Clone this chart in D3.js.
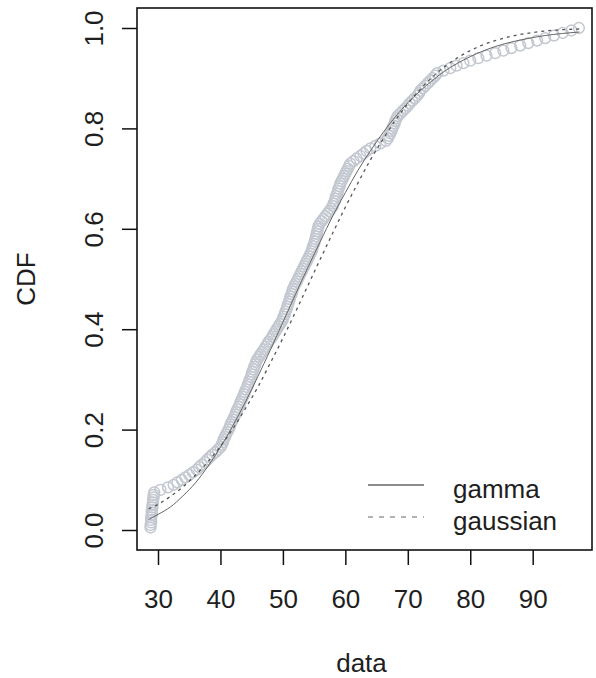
<!DOCTYPE html>
<html>
<head>
<meta charset="utf-8">
<script src="https://cdn.jsdelivr.net/npm/d3@7"></script>
<style>
  body { margin: 0; background: #fff; }
  svg text { font-family: "Liberation Sans", Arial, sans-serif; fill: #1e1e1e; }
</style>
</head>
<body>
<script>
// sorted sample (200 obs)
var sampleX = [
  28.8, 28.8, 28.9, 28.9, 28.9, 29.0, 29.0, 29.0, 29.1, 29.1,
  29.2, 29.2, 29.3, 29.3, 29.4, 30.4, 31.6, 32.5, 33.1, 33.8,
  34.4, 35.0, 35.6, 36.2, 36.6, 37.0, 37.5, 37.9, 38.3, 38.7,
  39.2, 39.6, 40.0, 40.2, 40.4, 40.5, 40.7, 40.9, 41.1, 41.3,
  41.5, 41.6, 41.8, 42.0, 42.2, 42.4, 42.5, 42.7, 42.9, 43.1,
  43.2, 43.4, 43.6, 43.8, 43.9, 44.1, 44.3, 44.4, 44.6, 44.7,
  44.9, 45.0, 45.1, 45.3, 45.4, 45.6, 45.7, 45.9, 46.2, 46.4,
  46.7, 47.0, 47.2, 47.5, 47.7, 48.0, 48.3, 48.5, 48.8, 49.0,
  49.3, 49.5, 49.8, 50.0, 50.1, 50.3, 50.4, 50.6, 50.7, 50.8,
  51.0, 51.1, 51.2, 51.4, 51.5, 51.6, 51.8, 52.0, 52.2, 52.4,
  52.6, 52.8, 53.0, 53.2, 53.4, 53.6, 53.8, 54.0, 54.2, 54.4,
  54.6, 54.7, 54.8, 55.0, 55.1, 55.2, 55.3, 55.4, 55.5, 55.6,
  55.7, 55.9, 56.2, 56.5, 56.8, 57.1, 57.4, 57.7, 58.0, 58.1,
  58.3, 58.4, 58.5, 58.7, 58.8, 58.9, 59.1, 59.2, 59.4, 59.6,
  59.8, 60.0, 60.2, 60.4, 60.6, 60.8, 61.3, 61.8, 62.4, 62.9,
  63.4, 64.0, 64.8, 65.6, 66.5, 66.8, 67.0, 67.2, 67.4, 67.5,
  67.7, 67.9, 68.0, 68.2, 68.4, 68.8, 69.2, 69.6, 70.0, 70.3,
  70.7, 71.1, 71.5, 71.8, 72.0, 72.4, 72.8, 73.2, 73.6, 74.0,
  74.4, 74.7, 75.7, 76.8, 77.8, 78.9, 80.0, 81.3, 82.6, 84.0,
  85.3, 86.6, 88.0, 89.3, 90.7, 92.0, 93.4, 94.8, 96.2, 97.4
];

// fitted curves
var gammaX = [28.5, 30, 32, 34, 36, 38, 40, 42, 44, 46, 48, 50, 52, 54, 56, 58, 60,
  62, 64, 66, 68, 70, 72, 74, 76, 78, 80, 84, 88, 92, 97.5];
var gammaP = [0.021, 0.031, 0.046, 0.068, 0.094, 0.127, 0.165, 0.208, 0.255, 0.306,
  0.359, 0.414, 0.469, 0.523, 0.575, 0.626, 0.672, 0.716, 0.755, 0.791, 0.823,
  0.851, 0.875, 0.896, 0.915, 0.930, 0.943, 0.963, 0.976, 0.985, 0.992];

var gaussX = [28.5, 30, 32, 34, 36, 38, 40, 42, 44, 46, 48, 50, 52, 54, 56, 58, 60,
  62, 64, 66, 68, 70, 72, 74, 76, 78, 80, 84, 88, 92, 97.5];
var gaussP = [0.042, 0.051, 0.067, 0.086, 0.109, 0.136, 0.167, 0.202, 0.242, 0.285,
  0.333, 0.382, 0.434, 0.487, 0.540, 0.592, 0.643, 0.691, 0.737, 0.778, 0.816,
  0.849, 0.878, 0.903, 0.924, 0.941, 0.955, 0.975, 0.987, 0.994, 0.998];

var xTicks = [30, 40, 50, 60, 70, 80, 90];
var yTicks = [0, 0.2, 0.4, 0.6, 0.8, 1.0];
var legendNames = ['gamma', 'gaussian'];

var width = 596, height = 678;
var box = { left: 137, top: 8, right: 592, bottom: 550 };

var svg = d3.select('body').append('svg')
  .attr('width', width)
  .attr('height', height);

var x = d3.scaleLinear().domain([30, 90]).range([158, 532.7]);
var y = d3.scaleLinear().domain([0, 1]).range([530, 28]);

// empirical cdf points
var n = sampleX.length;
var ecdf = sampleX.map(function(v, i) { return [v, (i + 1) / n]; });

svg.append('g').selectAll('circle')
  .data(ecdf)
  .enter().append('circle')
  .attr('cx', function(d) { return x(d[0]); })
  .attr('cy', function(d) { return y(d[1]); })
  .attr('r', 5.4)
  .attr('fill', 'none')
  .attr('stroke', '#c3c8d0')
  .attr('stroke-width', 1.5);

var line = d3.line()
  .x(function(d) { return x(d[0]); })
  .y(function(d) { return y(d[1]); })
  .curve(d3.curveMonotoneX);

svg.append('path')
  .datum(d3.zip(gammaX, gammaP))
  .attr('d', line)
  .attr('fill', 'none')
  .attr('stroke', '#666')
  .attr('stroke-width', 1);

svg.append('path')
  .datum(d3.zip(gaussX, gaussP))
  .attr('d', line)
  .attr('fill', 'none')
  .attr('stroke', '#555')
  .attr('stroke-width', 1.3)
  .attr('stroke-dasharray', '3,4');

// frame
svg.append('rect')
  .attr('x', box.left)
  .attr('y', box.top)
  .attr('width', box.right - box.left)
  .attr('height', box.bottom - box.top)
  .attr('fill', 'none')
  .attr('stroke', '#111')
  .attr('stroke-width', 1.6);

// x axis
var xAxis = svg.append('g')
  .attr('transform', 'translate(0,' + box.bottom + ')')
  .call(d3.axisBottom(x).tickValues(xTicks).tickSize(15).tickSizeOuter(0).tickPadding(25));
xAxis.select('.domain').remove();
xAxis.selectAll('line').attr('stroke', '#111').attr('stroke-width', 1.5);
xAxis.selectAll('text').style('font-size', '26px').attr('fill', '#1e1e1e');

// y axis, labels turned like R does
var yAxis = svg.append('g')
  .attr('transform', 'translate(' + box.left + ',0)')
  .call(d3.axisLeft(y).tickValues(yTicks).tickSize(15).tickSizeOuter(0).tickFormat(d3.format('.1f')));
yAxis.select('.domain').remove();
yAxis.selectAll('line').attr('stroke', '#111').attr('stroke-width', 1.5);
yAxis.selectAll('text')
  .attr('x', 0)
  .attr('y', -34)
  .attr('dy', 0)
  .attr('transform', 'rotate(-90)')
  .attr('text-anchor', 'middle')
  .style('font-size', '26px')
  .attr('fill', '#1e1e1e');

// axis titles
svg.append('text')
  .attr('x', (box.left + box.right) / 2 - 3)
  .attr('y', 672)
  .attr('text-anchor', 'middle')
  .style('font-size', '26px')
  .text('data');

svg.append('text')
  .attr('transform', 'translate(35,' + (box.top + box.bottom) / 2 + ') rotate(-90)')
  .attr('text-anchor', 'middle')
  .style('font-size', '26px')
  .text('CDF');

// legend
var legend = svg.append('g');
legendNames.forEach(function(name, i) {
  var ly = 485 + i * 32;
  legend.append('line')
    .attr('x1', 368).attr('x2', 424)
    .attr('y1', ly).attr('y2', ly)
    .attr('stroke', i === 0 ? '#666' : '#999')
    .attr('stroke-width', i === 0 ? 1.5 : 1.3)
    .attr('stroke-dasharray', i === 0 ? null : '5,6');
  legend.append('text')
    .attr('x', 453)
    .attr('y', ly + 13)
    .style('font-size', '26px')
    .text(name);
});
</script>
</body>
</html>
